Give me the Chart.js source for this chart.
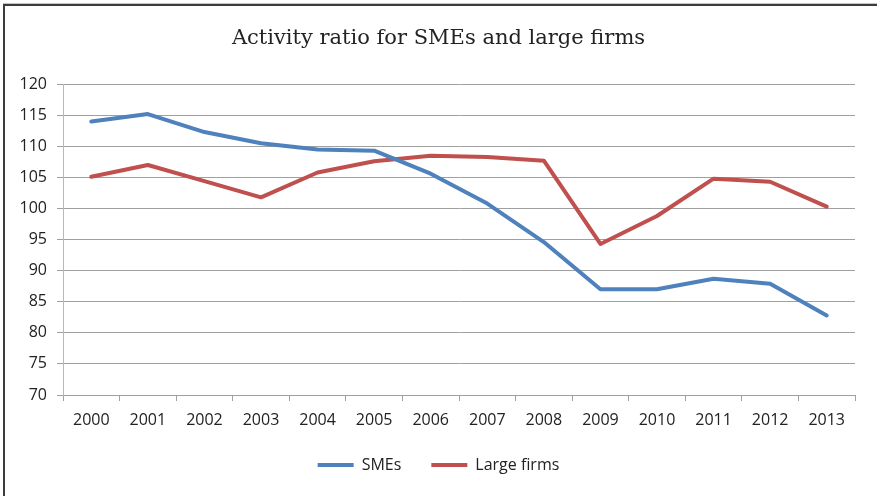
<!DOCTYPE html>
<html>
<head>
<meta charset="utf-8">
<script src="https://cdn.jsdelivr.net/npm/chart.js@4"></script>
<style>
  html, body { margin: 0; padding: 0; background: #fff; }
  #wrap { width: 877px; height: 496px; position: relative; }
</style>
</head>
<body>
<div id="wrap"><canvas id="c" width="877" height="496"></canvas></div>
<script>
const years = ['2000','2001','2002','2003','2004','2005','2006','2007','2008','2009','2010','2011','2012','2013'];
const smes = [114.0, 115.2, 112.3, 110.5, 109.5, 109.3, 105.6, 100.8, 94.6, 87.0, 87.0, 88.7, 87.9, 82.8];
const largeFirms = [105.1, 107.0, 104.4, 101.8, 105.8, 107.6, 108.5, 108.3, 107.7, 94.3, 98.8, 104.8, 104.3, 100.3];
const titleText = 'Activity ratio for SMEs and large firms';
const seriesNames = ['SMEs', 'Large firms'];
const yMin = 70, yMax = 120, yStep = 5;

const frame = {
  id: 'frame',
  beforeDraw(chart) {
    const ctx = chart.ctx;
    ctx.save();
    ctx.fillStyle = '#ffffff';
    ctx.fillRect(0, 0, chart.width, chart.height);
    ctx.fillStyle = '#c4c4c4';
    ctx.fillRect(3, 3, chart.width - 3, 1);
    ctx.fillStyle = '#3c3c3c';
    ctx.fillRect(3, 4, chart.width - 3, 2);
    ctx.fillRect(3, 4, 2, chart.height - 4);
    ctx.restore();
  }
};

const tickFont = { family: '"Open Sans", sans-serif', size: 16 };

new Chart(document.getElementById('c'), {
  type: 'line',
  data: {
    labels: years,
    datasets: [
      { label: seriesNames[0], data: smes, borderColor: '#4F81BD', backgroundColor: '#4F81BD',
        borderWidth: 4, pointRadius: 0, tension: 0, borderJoinStyle: 'round', borderCapStyle: 'round' },
      { label: seriesNames[1], data: largeFirms, borderColor: '#C0504D', backgroundColor: '#C0504D',
        borderWidth: 4, pointRadius: 0, tension: 0, borderJoinStyle: 'round', borderCapStyle: 'round' }
    ]
  },
  options: {
    responsive: false,
    animation: false,
    events: [],
    layout: { padding: { left: 0, right: 0, top: 0, bottom: 13 } },
    plugins: {
      title: {
        display: true, text: titleText, color: '#222',
        font: { family: '"DejaVu Serif", serif', size: 21, weight: 'normal' },
        padding: { top: 26, bottom: 33 }
      },
      legend: {
        position: 'bottom',
        labels: {
          color: '#222', font: tickFont, boxWidth: 36, boxHeight: 4, padding: 30,
          generateLabels(chart) {
            const items = Chart.defaults.plugins.legend.labels.generateLabels(chart);
            items.forEach(it => { it.lineWidth = 0; it.fillStyle = it.strokeStyle; });
            return items;
          }
        }
      },
      tooltip: { enabled: false }
    },
    scales: {
      x: {
        offset: true,
        grid: { offset: true, drawOnChartArea: false, drawTicks: true, tickLength: 6, color: '#a0a0a0' },
        border: { color: '#a0a0a0' },
        ticks: { color: '#222', font: tickFont, padding: 10, maxRotation: 0, autoSkip: false },
        afterFit(scale) { scale.height = 32; }
      },
      y: {
        min: yMin, max: yMax,
        grid: { color: '#a0a0a0', tickLength: 6 },
        border: { color: '#b8b8b8' },
        ticks: { stepSize: yStep, color: '#222', font: tickFont, padding: 10 },
        afterFit(scale) { scale.width = 63; }
      },
      yRight: {
        position: 'right',
        min: yMin, max: yMax,
        grid: { display: false, drawTicks: false },
        border: { display: false },
        ticks: { display: false },
        afterFit(scale) { scale.width = 22; }
      }
    }
  },
  plugins: [frame]
});
</script>
</body>
</html>
